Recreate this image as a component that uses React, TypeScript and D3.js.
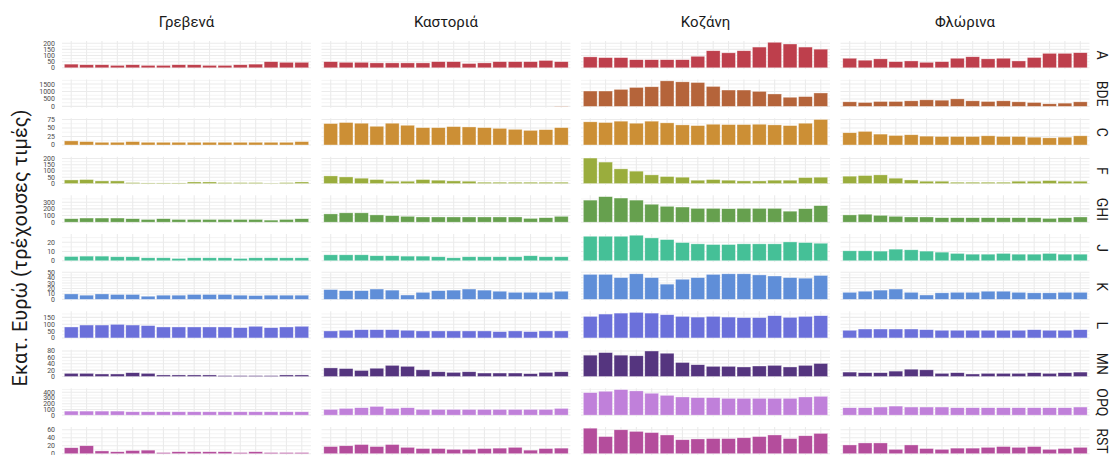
import React from "react";
import * as d3 from "d3";

const years = ["2000","2001","2002","2003","2004","2005","2006","2007","2008","2009","2010","2011","2012","2013","2014","2015"];
const regions = ["Γρεβενά", "Καστοριά", "Κοζάνη", "Φλώρινα"];
const sectors = ["A", "BDE", "C", "F", "GHI", "J", "K", "L", "MN", "OPQ", "RST"];
const sectorColors = ["#BE3F4C", "#B5643A", "#CC8F35", "#9AAD3D", "#66A04E", "#45C097", "#5F8ED8", "#6B70DA", "#55357F", "#C080DA", "#B44D9C"];

// values per sector: [Γρεβενά, Καστοριά, Κοζάνη, Φλώρινα]
const valA = [
  [30, 25, 25, 20, 25, 20, 20, 25, 25, 20, 20, 25, 30, 50, 45, 45],
  [50, 45, 45, 40, 40, 40, 40, 50, 50, 35, 40, 50, 50, 50, 60, 50],
  [89, 83, 83, 66, 66, 66, 66, 94, 139, 122, 139, 169, 208, 194, 169, 152],
  [78, 62, 73, 50, 56, 45, 50, 78, 90, 73, 78, 56, 84, 118, 118, 123],
];
const valBDE = [
  [0, 0, 0, 0, 0, 0, 0, 0, 0, 0, 0, 0, 0, 0, 0, 0],
  [0, 0, 0, 0, 0, 0, 0, 0, 0, 0, 0, 0, 0, 0, 0, 20],
  [1034, 1034, 1144, 1276, 1320, 1716, 1650, 1606, 1342, 1100, 1100, 1012, 836, 616, 660, 902],
  [308, 264, 330, 330, 374, 440, 418, 506, 374, 330, 374, 308, 264, 176, 220, 308],
];
const valC = [
  [12, 10, 8, 8, 10, 8, 8, 8, 8, 8, 8, 8, 8, 8, 8, 10],
  [63, 66, 64, 55, 64, 58, 51, 51, 54, 53, 51, 49, 46, 43, 45, 51],
  [68, 66, 70, 64, 70, 65, 59, 57, 61, 60, 60, 61, 59, 57, 64, 75],
  [36, 40, 32, 28, 30, 26, 25, 25, 25, 27, 25, 25, 23, 21, 23, 27],
];
const valF = [
  [29, 32, 21, 21, 8, 5, 5, 5, 13, 13, 8, 8, 8, 3, 8, 13],
  [61, 53, 43, 32, 19, 19, 32, 27, 21, 19, 11, 11, 11, 11, 11, 11],
  [203, 171, 117, 99, 69, 56, 51, 27, 32, 27, 21, 21, 27, 27, 48, 51],
  [59, 64, 69, 43, 29, 19, 19, 11, 11, 11, 11, 19, 19, 24, 19, 19],
];
const valGHI = [
  [52, 62, 62, 62, 52, 41, 52, 41, 41, 41, 41, 41, 41, 31, 41, 52],
  [124, 140, 140, 109, 98, 88, 78, 78, 78, 78, 78, 78, 78, 57, 67, 88],
  [331, 383, 362, 331, 269, 238, 227, 207, 207, 202, 207, 207, 207, 165, 202, 248],
  [109, 119, 103, 88, 78, 78, 67, 67, 67, 67, 67, 67, 67, 57, 67, 78],
];
const valJ = [
  [4.6, 5, 5, 4.3, 4.3, 3.2, 3.2, 2.5, 3.2, 3.2, 3.2, 2.5, 3.2, 3.2, 3.2, 3.2],
  [6.4, 6.4, 6.4, 5.4, 5.4, 5, 5, 4.3, 3.2, 4.3, 4.3, 4.3, 4.3, 5.4, 4.3, 4.3],
  [26.4, 26.4, 26.4, 27.5, 24.6, 22.8, 19.6, 18.2, 17.5, 17.5, 18.2, 18.2, 18.2, 20.3, 19.6, 18.9],
  [10.7, 10.7, 10.4, 12.5, 11.8, 10.4, 9.3, 7.9, 7.1, 7.1, 7.9, 7.1, 7.1, 7.9, 7.1, 7.1],
];
const valK = [
  [10, 7.7, 10, 9, 9, 5.8, 7.7, 7.7, 9, 9, 9, 7.7, 7, 7.7, 7.7, 7.7],
  [18, 16, 16, 19, 17, 8, 13, 16, 17, 19, 17, 15, 13, 13, 13, 15],
  [46, 46, 40, 47, 40, 28, 37, 40, 46, 47, 47, 45, 43, 40, 39, 44],
  [13, 15, 17, 19, 13, 8, 12, 13, 13, 15, 15, 13, 12, 12, 13, 13],
];
const valL = [
  [80, 94, 94, 99, 94, 90, 80, 80, 80, 80, 80, 75, 85, 75, 80, 85],
  [51, 56, 60, 60, 60, 56, 51, 51, 51, 51, 51, 46, 51, 46, 51, 51],
  [157, 174, 181, 186, 181, 169, 157, 152, 157, 152, 148, 148, 162, 150, 157, 162],
  [56, 65, 65, 65, 65, 60, 56, 56, 56, 56, 56, 56, 60, 56, 56, 60],
];
const valMN = [
  [10, 10, 8, 8, 12, 10, 5, 5, 5, 5, 3, 3, 3, 3, 5, 5],
  [27, 25, 19, 26, 35, 32, 21, 15, 13, 15, 11, 11, 11, 9, 13, 15],
  [67, 75, 67, 65, 80, 73, 44, 37, 32, 32, 30, 33, 35, 30, 35, 41],
  [14, 12, 12, 17, 23, 21, 10, 12, 8, 10, 10, 10, 12, 10, 12, 14],
];
const valOPQ = [
  [71, 71, 71, 71, 59, 59, 59, 59, 59, 59, 59, 59, 59, 59, 59, 59],
  [100, 118, 130, 153, 118, 130, 100, 100, 100, 100, 100, 100, 100, 100, 100, 118],
  [395, 419, 448, 425, 384, 348, 319, 307, 307, 295, 295, 295, 295, 295, 319, 330],
  [130, 130, 142, 159, 142, 142, 142, 130, 130, 130, 130, 130, 130, 130, 130, 142],
];
const valRST = [
  [15, 20, 7, 5, 8, 9, 3, 5, 5, 5, 5, 3, 5, 3, 3, 3],
  [18, 20, 23, 18, 23, 16, 13, 13, 11, 11, 13, 14, 16, 9, 13, 14],
  [64, 43, 60, 56, 53, 47, 35, 37, 38, 38, 40, 43, 47, 38, 45, 51],
  [22, 27, 27, 11, 22, 13, 11, 14, 14, 16, 18, 16, 18, 11, 13, 16],
];
const sectorValues = [valA, valBDE, valC, valF, valGHI, valJ, valK, valL, valMN, valOPQ, valRST];

const sectorTicks = [
  [0, 50, 100, 150, 200],
  [0, 500, 1000, 1500],
  [0, 25, 50, 75],
  [0, 50, 100, 150, 200],
  [0, 100, 200, 300],
  [0, 10, 20],
  [0, 10, 20, 30, 40, 50],
  [0, 50, 100, 150],
  [0, 20, 40, 60, 80],
  [0, 100, 200, 300, 400],
  [0, 20, 40, 60],
];

const W = 1115;
const H = 455;
const panelLeft = 62;
const panelW = 249;
const colGap = 10.5;
const panelTop = 41;
const panelBottom = 455;
const rowGap = 10.5;
const nRows = sectors.length;
const panelH = (panelBottom - panelTop - rowGap * (nRows - 1)) / nRows;

export default function App() {
  const font = "Roboto, 'Noto Sans', sans-serif";
  return (
    <div style={{ position: "absolute", left: 0, top: 0 }}>
      <svg width={W} height={H} style={{ display: "block", background: "#fff" }}>
        {/* column titles */}
        {regions.map((r, c) => {
          const x0 = panelLeft + c * (panelW + colGap);
          return (
            <text key={r} x={x0 + panelW / 2} y={27} textAnchor="middle" fontFamily={font} fontSize={15} fill="#1a1a1a">
              {r}
            </text>
          );
        })}
        {/* y axis title */}
        <text
          transform={`translate(27,${(panelTop + panelBottom) / 2}) rotate(-90)`}
          textAnchor="middle"
          fontFamily={font}
          fontSize={20}
          fill="#1a1a1a"
        >
          Εκατ. Ευρώ (τρέχουσες τιμές)
        </text>
        {sectors.map((s, ri) => {
          const y0 = panelTop + ri * (panelH + rowGap);
          const y1 = y0 + panelH;
          const vals = sectorValues[ri];
          const maxV = d3.max(vals.flat()) as number;
          const y = d3.scaleLinear().domain([-0.05 * maxV, 1.05 * maxV]).range([y1, y0]);
          const ticks = sectorTicks[ri];
          const step = ticks[1] - ticks[0];
          const minor: number[] = [];
          for (let v = ticks[0] - step / 2; v <= 1.05 * maxV; v += step) {
            if (v >= -0.05 * maxV && !ticks.includes(v)) minor.push(v);
          }
          return (
            <g key={s}>
              {/* y tick labels */}
              {ticks.map((t) => (
                <text key={t} x={55} y={y(t)} dy="0.35em" textAnchor="end" fontFamily={font} fontSize={7} fill="#4D4D4D">
                  {t}
                </text>
              ))}
              {/* strip label */}
              <text
                transform={`translate(1097,${(y0 + y1) / 2}) rotate(90)`}
                textAnchor="middle"
                fontFamily={font}
                fontSize={14}
                fill="#1a1a1a"
              >
                {s}
              </text>
              {regions.map((r, c) => {
                const x0 = panelLeft + c * (panelW + colGap);
                const x = d3.scaleBand<string>().domain(years).range([x0, x0 + panelW]).paddingInner(0.1).paddingOuter(0.15);
                const data = vals[c];
                return (
                  <g key={r}>
                    {minor.map((m) => (
                      <line key={"m" + m} x1={x0} x2={x0 + panelW} y1={y(m)} y2={y(m)} stroke="#EBEBEB" strokeWidth={0.55} />
                    ))}
                    {ticks.map((t) => (
                      <line key={"t" + t} x1={x0} x2={x0 + panelW} y1={y(t)} y2={y(t)} stroke="#EBEBEB" strokeWidth={1.07} />
                    ))}
                    {years.map((yr) => (
                      <line
                        key={"v" + yr}
                        x1={(x(yr) as number) + x.bandwidth() / 2}
                        x2={(x(yr) as number) + x.bandwidth() / 2}
                        y1={y0}
                        y2={y1}
                        stroke="#EBEBEB"
                        strokeWidth={1.07}
                      />
                    ))}
                    {data.map((v, i) => (
                      <rect
                        key={i}
                        x={x(years[i]) as number}
                        width={x.bandwidth()}
                        y={y(v)}
                        height={Math.max(0, y(0) - y(v))}
                        fill={sectorColors[ri]}
                        stroke="#ffffff"
                        strokeOpacity={0.6}
                        strokeWidth={0.6}
                      />
                    ))}
                  </g>
                );
              })}
            </g>
          );
        })}
      </svg>
    </div>
  );
}
